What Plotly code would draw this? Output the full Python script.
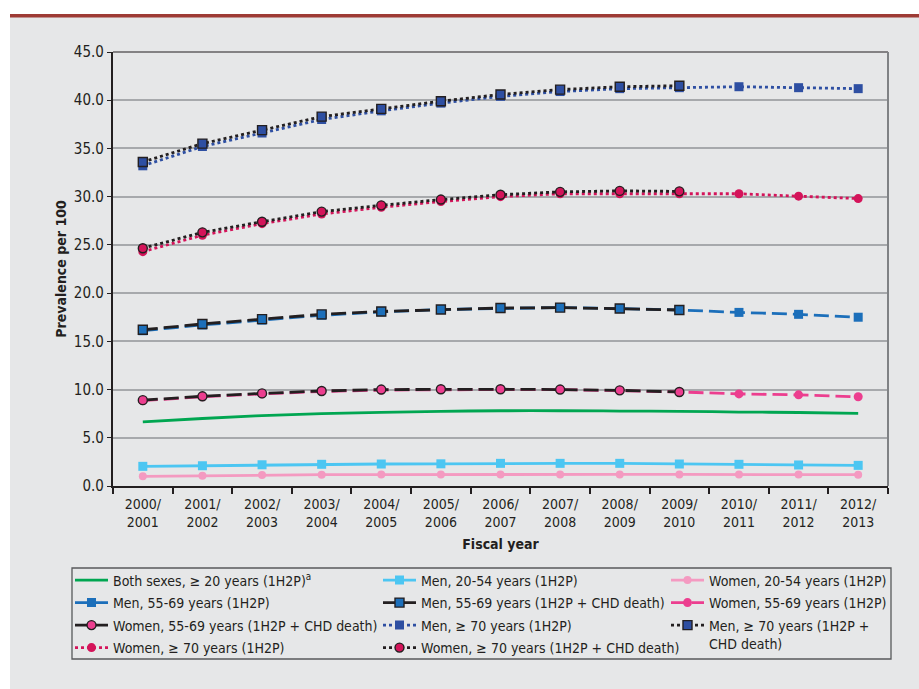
import plotly.graph_objects as go

# Fiscal years on the category axis
years = ["2000/<br>2001", "2001/<br>2002", "2002/<br>2003", "2003/<br>2004", "2004/<br>2005",
         "2005/<br>2006", "2006/<br>2007", "2007/<br>2008", "2008/<br>2009", "2009/<br>2010",
         "2010/<br>2011", "2011/<br>2012", "2012/<br>2013"]
years_chd = years[:10]

# Prevalence per 100
both_sexes_20 = [6.64, 7.0, 7.3, 7.5, 7.64, 7.74, 7.8, 7.8, 7.77, 7.74, 7.67, 7.62, 7.53]
men_20_54 = [2.04, 2.1, 2.2, 2.25, 2.28, 2.3, 2.35, 2.35, 2.35, 2.28, 2.25, 2.18, 2.14]
women_20_54 = [1.0, 1.07, 1.14, 1.17, 1.18, 1.2, 1.2, 1.2, 1.2, 1.2, 1.2, 1.2, 1.17]
men_55_69 = [16.1, 16.7, 17.2, 17.7, 18.05, 18.3, 18.4, 18.5, 18.4, 18.25, 18.0, 17.8, 17.5]
men_55_69_chd = [16.2, 16.8, 17.3, 17.8, 18.1, 18.3, 18.45, 18.5, 18.4, 18.25]
women_55_69 = [8.85, 9.25, 9.55, 9.8, 9.95, 10.0, 10.0, 10.0, 9.9, 9.75, 9.55, 9.45, 9.25]
women_55_69_chd = [8.9, 9.3, 9.6, 9.85, 10.0, 10.03, 10.03, 10.0, 9.92, 9.75]
men_70 = [33.2, 35.2, 36.6, 38.0, 38.9, 39.7, 40.4, 40.9, 41.2, 41.3, 41.4, 41.3, 41.2]
men_70_chd = [33.6, 35.5, 36.9, 38.3, 39.1, 39.9, 40.6, 41.1, 41.4, 41.5]
women_70 = [24.3, 26.0, 27.2, 28.2, 28.9, 29.5, 30.0, 30.3, 30.3, 30.3, 30.3, 30.05, 29.8]
women_70_chd = [24.65, 26.3, 27.4, 28.45, 29.1, 29.7, 30.2, 30.5, 30.6, 30.55]

y_ticks = [0, 5, 10, 15, 20, 25, 30, 35, 40, 45]

FONT = "Liberation Sans Narrow, DejaVu Sans Condensed, Arial Narrow, sans-serif"
INK = "#231f20"
BG = "#e6e7e8"
GREEN = "#00a651"
SKY = "#4cc6f2"
ROSE = "#f49ac1"
BLUE = "#1c6fba"
PINK = "#ec3e8f"
NAVY = "#2e4fa2"
CRIMSON = "#d4145a"
LONGDASH = "15px,6px"

W, H = 919, 689
L, R, T, B = 113, 888, 52, 486


def px(x):
    return (x - L) / (R - L)


def py(y):
    return (B - y) / (B - T)


fig = go.Figure()


def add(x, y, name, color, dash, symbol=None, mcolor=None, mline=None, size=9,
        legend="legend", shape="linear"):
    mode = "lines+markers" if symbol else "lines"
    marker = dict(symbol=symbol, size=size, color=mcolor or color,
                  line=dict(color=mline or mcolor or color, width=1.4 if mline else 0)) if symbol else None
    fig.add_trace(go.Scatter(
        x=x, y=y, name=name, mode=mode, legend=legend, legendgroup=name,
        line=dict(color=color, width=2.8, dash=dash, shape=shape),
        marker=marker,
    ))


# Single-measure (1H2P) series
add(years, both_sexes_20, "Both sexes, ≥ 20 years (1H2P)<sup>a</sup>", GREEN, "solid",
    shape="spline", legend="legend")
add(years, men_55_69, "Men, 55-69 years (1H2P)", BLUE, LONGDASH, "square", legend="legend")
add(years, women_70, "Women, ≥ 70 years (1H2P)", CRIMSON, "dot", "circle", legend="legend")
add(years, men_70, "Men, ≥ 70 years (1H2P)", NAVY, "dot", "square", legend="legend2")
add(years, women_55_69, "Women, 55-69 years (1H2P)", PINK, LONGDASH, "circle", legend="legend3")
add(years, men_20_54, "Men, 20-54 years (1H2P)", SKY, "solid", "square", legend="legend2")
add(years, women_20_54, "Women, 20-54 years (1H2P)", ROSE, "solid", "circle", size=8,
    legend="legend3")

# CHD-death series drawn on top
add(years_chd, men_55_69_chd, "Men, 55-69 years (1H2P + CHD death)", INK, LONGDASH, "square",
    mcolor=BLUE, mline=INK, legend="legend2")
add(years_chd, women_55_69_chd, "Women, 55-69 years (1H2P + CHD death)", INK, LONGDASH, "circle",
    mcolor=PINK, mline=INK, legend="legend")
add(years_chd, men_70_chd, "Men, ≥ 70 years (1H2P +<br>CHD death)", INK, "dot", "square",
    mcolor=NAVY, mline=INK, legend="legend3")
add(years_chd, women_70_chd, "Women, ≥ 70 years (1H2P + CHD death)", INK, "dot", "circle",
    mcolor=CRIMSON, mline=INK, legend="legend2")

# Legend entry order inside each column
order = {
    "Both sexes": 1, "Men, 55-69 years (1H2P)": 2, "Women, 55-69 years (1H2P + CHD": 3,
    "Women, ≥ 70 years (1H2P)": 4,
    "Men, 20-54": 1, "Men, 55-69 years (1H2P + CHD": 2, "Men, ≥ 70 years (1H2P)": 3,
    "Women, ≥ 70 years (1H2P + CHD": 4,
    "Women, 20-54": 1, "Women, 55-69 years (1H2P)": 2, "Men, ≥ 70 years (1H2P +<br>": 3,
}
for tr in fig.data:
    for key, rank in order.items():
        if tr.name.startswith(key):
            tr.legendrank = rank
            break

legend_common = dict(
    bgcolor="rgba(0,0,0,0)", borderwidth=0, font=dict(family=FONT, size=14, color=INK),
    xanchor="left", yanchor="top", traceorder="grouped", tracegroupgap=1.3, valign="top",
    itemwidth=33, orientation="v",
)

shapes = [
    # white page margins around the grey panel
    dict(type="rect", xref="paper", yref="paper", x0=px(0), x1=px(W), y0=py(0), y1=py(14),
         fillcolor="white", line=dict(width=0), layer="below"),
    dict(type="rect", xref="paper", yref="paper", x0=px(0), x1=px(10), y0=py(0), y1=py(H),
         fillcolor="white", line=dict(width=0), layer="below"),
    # dark red rule along the top of the panel
    dict(type="rect", xref="paper", yref="paper", x0=px(10), x1=px(W), y0=py(14), y1=py(17.5),
         fillcolor="#9e3b35", line=dict(width=0)),
    # plot frame: top and right edges
    dict(type="line", xref="paper", yref="paper", x0=0, x1=1, y0=1, y1=1,
         line=dict(color=INK, width=1.2)),
    dict(type="line", xref="paper", yref="paper", x0=1, x1=1, y0=0, y1=1,
         line=dict(color="#808285", width=2)),
    # key frame
    dict(type="rect", xref="paper", yref="paper", x0=px(72), x1=px(891), y0=py(568), y1=py(659),
         line=dict(color="#58595b", width=1.3), fillcolor="rgba(0,0,0,0)"),
]

fig.update_layout(
    width=W, height=H,
    margin=dict(l=L, r=W - R, t=T, b=H - B, autoexpand=False),
    paper_bgcolor=BG, plot_bgcolor=BG,
    font=dict(family=FONT, size=15, color=INK),
    showlegend=True,
    legend=dict(x=px(70), y=py(564.5), **legend_common),
    legend2=dict(x=px(378), y=py(564.5), **legend_common),
    legend3=dict(x=px(666), y=py(564.5), **legend_common),
    shapes=shapes,
    xaxis=dict(
        type="category", categoryorder="array", categoryarray=years,
        range=[-0.5, len(years) - 0.5],
        showline=True, linecolor=INK, linewidth=2.2,
        ticks="outside", tickson="boundaries", ticklen=6, tickwidth=1.5, tickcolor=INK,
        showgrid=False, zeroline=False, ticklabelstandoff=4,
        tickfont=dict(family=FONT, size=14, color=INK),
        title=dict(text="<b>Fiscal year</b>", font=dict(family=FONT, size=14, color=INK),
                   standoff=10),
    ),
    yaxis=dict(
        range=[0, 45], tickvals=y_ticks, tickformat=".1f",
        showline=True, linecolor=INK, linewidth=2.2,
        ticks="outside", ticklen=4, tickwidth=1.2, tickcolor=INK,
        showgrid=True, gridcolor="#a7a9ac", gridwidth=1.5, zeroline=False,
        tickfont=dict(family=FONT, size=15, color=INK),
        title=dict(text="<b>Prevalence per 100</b>", font=dict(family=FONT, size=14, color=INK),
                   standoff=4),
    ),
)

fig.write_html("out.html")
